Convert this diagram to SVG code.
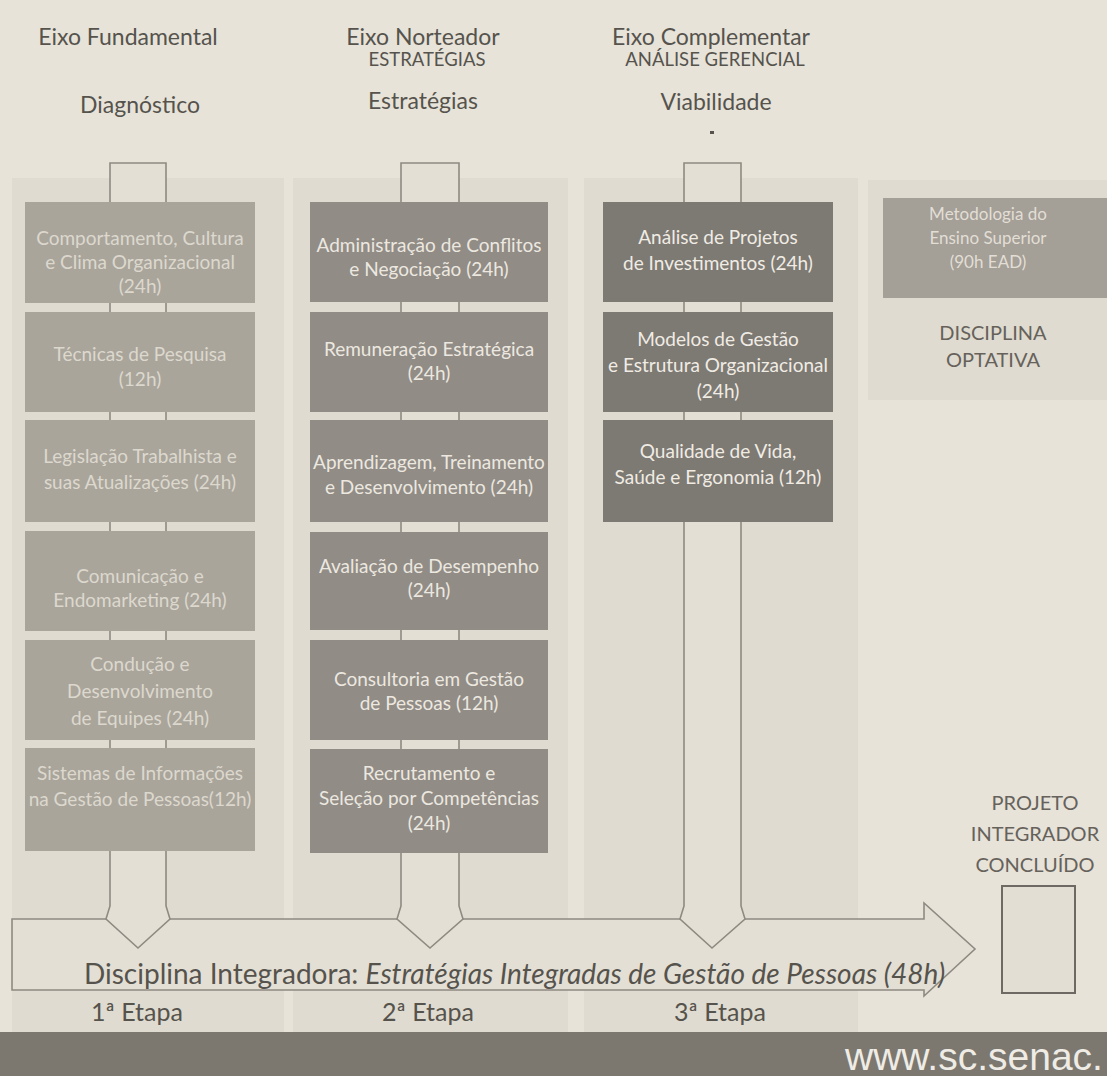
<svg xmlns="http://www.w3.org/2000/svg" width="1107" height="1076" viewBox="0 0 1107 1076">
<defs>
<style>
.hdr{font-family:Lato,"Liberation Sans",sans-serif;font-size:23px;fill:#56534d;text-anchor:middle}
.sub{font-family:Lato,"Liberation Sans",sans-serif;font-size:18.5px;fill:#56534d;text-anchor:middle}
.bt{font-family:Lato,"Liberation Sans",sans-serif;font-size:19px;text-anchor:middle}
.c1{fill:#aaa59b}
.c2{fill:#918c85}
.c3{fill:#7d7973}
.t1{fill:#dcd8ce}
.t2{fill:#ece8e0}
.t3{fill:#f0ece4}
.arr{fill:#e3dfd5;stroke:#8e8a82;stroke-width:1.6;stroke-linejoin:miter}
.panel{fill:#dfdbd0}
.lbl{font-family:Lato,"Liberation Sans",sans-serif;font-size:20px;fill:#66625b;text-anchor:middle}
.etapa{font-family:Lato,"Liberation Sans",sans-serif;font-size:25px;fill:#56534d;text-anchor:middle}
.integ{font-family:Lato,"Liberation Sans",sans-serif;font-size:28px;fill:#56534d}
</style>
</defs>
<rect x="0" y="0" width="1107" height="1076" fill="#e7e3d9"/>
<!-- column panels -->
<rect class="panel" x="12" y="178" width="272" height="854"/>
<rect class="panel" x="293" y="178" width="275" height="854"/>
<rect class="panel" x="584" y="178" width="274" height="854"/>
<rect class="panel" x="868" y="180" width="239" height="220"/>

<!-- headers -->
<g id="header-fundamental">
<text class="hdr" x="128" y="45">Eixo Fundamental</text>
<text class="hdr" x="140" y="113">Diagnóstico</text>
</g>
<g id="header-norteador">
<text class="hdr" x="423" y="45">Eixo Norteador</text>
<text class="sub" x="427" y="66">ESTRATÉGIAS</text>
<text class="hdr" x="423" y="109">Estratégias</text>
</g>
<g id="header-complementar">
<text class="hdr" x="711" y="45">Eixo Complementar</text>
<text class="sub" x="715" y="66">ANÁLISE GERENCIAL</text>
<text class="hdr" x="716" y="110">Viabilidade</text>
<rect x="710" y="131" width="4" height="3" fill="#56534d"/>
</g>

<!-- connectors -->
<g id="connectors">
<path id="integradora-arrow" class="arr" d="M12 919 L924 919 L924 903 L975 949 L924 996 L924 990 L12 990 Z"/>
<path id="col1-arrow" class="arr" d="M110 163 L166 163 L166 906 L170 919 L138 948 L106 919 L110 906 Z"/>
<path id="col2-arrow" class="arr" d="M401 163 L459 163 L459 906 L463 919 L430 948 L397 919 L401 906 Z"/>
<path id="col3-arrow" class="arr" d="M684 163 L741 163 L741 906 L745 919 L712 948 L680 919 L684 906 Z"/>
</g>

<text class="integ" x="84" y="984">Disciplina Integradora: <tspan font-style="italic">Estratégias Integradas de Gestão de Pessoas (48h)</tspan></text>

<!-- column 1 -->
<g id="c1-comportamento"><rect class="c1" x="25" y="202" width="230" height="101"/>
<text class="bt t1"><tspan x="140" y="245">Comportamento, Cultura</tspan><tspan x="140" y="269">e Clima Organizacional</tspan><tspan x="140" y="293">(24h)</tspan></text></g>
<g id="c1-tecnicas"><rect class="c1" x="25" y="312" width="230" height="100"/>
<text class="bt t1"><tspan x="140" y="361">Técnicas de Pesquisa</tspan><tspan x="140" y="386">(12h)</tspan></text></g>
<g id="c1-legislacao"><rect class="c1" x="25" y="420" width="230" height="102"/>
<text class="bt t1"><tspan x="140" y="463">Legislação Trabalhista e</tspan><tspan x="140" y="489">suas Atualizações (24h)</tspan></text></g>
<g id="c1-comunicacao"><rect class="c1" x="25" y="531" width="230" height="100"/>
<text class="bt t1"><tspan x="140" y="583">Comunicação e</tspan><tspan x="140" y="607">Endomarketing  (24h)</tspan></text></g>
<g id="c1-conducao"><rect class="c1" x="25" y="640" width="230" height="100"/>
<text class="bt t1"><tspan x="140" y="671">Condução e</tspan><tspan x="140" y="698">Desenvolvimento</tspan><tspan x="140" y="725">de Equipes (24h)</tspan></text></g>
<g id="c1-sistemas"><rect class="c1" x="25" y="748" width="230" height="103"/>
<text class="bt t1"><tspan x="140" y="780">Sistemas de Informações</tspan><tspan x="140" y="806">na Gestão de Pessoas(12h)</tspan></text></g>

<!-- column 2 -->
<g id="c2-conflitos"><rect class="c2" x="310" y="202" width="238" height="100"/>
<text class="bt t2"><tspan x="429" y="252">Administração de Conflitos</tspan><tspan x="429" y="276">e Negociação (24h)</tspan></text></g>
<g id="c2-remuneracao"><rect class="c2" x="310" y="312" width="238" height="100"/>
<text class="bt t2"><tspan x="429" y="356">Remuneração Estratégica</tspan><tspan x="429" y="380">(24h)</tspan></text></g>
<g id="c2-aprendizagem"><rect class="c2" x="310" y="420" width="238" height="102"/>
<text class="bt t2"><tspan x="429" y="469">Aprendizagem, Treinamento</tspan><tspan x="429" y="494">e Desenvolvimento (24h)</tspan></text></g>
<g id="c2-avaliacao"><rect class="c2" x="310" y="532" width="238" height="98"/>
<text class="bt t2"><tspan x="429" y="573">Avaliação de Desempenho</tspan><tspan x="429" y="597">(24h)</tspan></text></g>
<g id="c2-consultoria"><rect class="c2" x="310" y="640" width="238" height="100"/>
<text class="bt t2"><tspan x="429" y="686">Consultoria em Gestão</tspan><tspan x="429" y="710">de Pessoas (12h)</tspan></text></g>
<g id="c2-recrutamento"><rect class="c2" x="310" y="749" width="238" height="104"/>
<text class="bt t2"><tspan x="429" y="780">Recrutamento e</tspan><tspan x="429" y="805">Seleção por Competências</tspan><tspan x="429" y="830">(24h)</tspan></text></g>

<!-- column 3 -->
<g id="c3-projetos"><rect class="c3" x="603" y="202" width="230" height="100"/>
<text class="bt t3"><tspan x="718" y="244">Análise de Projetos</tspan><tspan x="718" y="270">de Investimentos (24h)</tspan></text></g>
<g id="c3-modelos"><rect class="c3" x="603" y="312" width="230" height="100"/>
<text class="bt t3"><tspan x="718" y="346">Modelos de Gestão</tspan><tspan x="718" y="372">e Estrutura Organizacional</tspan><tspan x="718" y="398">(24h)</tspan></text></g>
<g id="c3-qualidade"><rect class="c3" x="603" y="420" width="230" height="102"/>
<text class="bt t3"><tspan x="718" y="458">Qualidade de Vida,</tspan><tspan x="718" y="484">Saúde e Ergonomia (12h)</tspan></text></g>

<!-- optativa -->
<g id="optativa"><rect x="883" y="198" width="224" height="100" fill="#a49f97"/>
<text class="bt" style="font-size:17px" fill="#e2ded5"><tspan x="988" y="220">Metodologia do</tspan><tspan x="988" y="244">Ensino Superior</tspan><tspan x="988" y="268">(90h EAD)</tspan></text>
<text class="lbl"><tspan x="993" y="340">DISCIPLINA</tspan><tspan x="993" y="367">OPTATIVA</tspan></text></g>

<!-- projeto integrador -->
<g id="projeto"><text class="lbl"><tspan x="1035" y="810">PROJETO</tspan><tspan x="1035" y="841">INTEGRADOR</tspan><tspan x="1035" y="872">CONCLUÍDO</tspan></text>
<rect x="1002" y="886" width="73" height="107" fill="#e2ded4" stroke="#6e6a63" stroke-width="2"/></g>

<!-- etapas -->
<text class="etapa" x="137" y="1021">1ª Etapa</text>
<text class="etapa" x="428" y="1021">2ª Etapa</text>
<text class="etapa" x="720" y="1021">3ª Etapa</text>

<!-- footer band -->
<rect x="0" y="1032" width="1107" height="44" fill="#7c7870"/>
<text x="845" y="1070" font-family="'Liberation Sans',Arial,sans-serif" font-size="39" fill="#efece5">www.sc.senac.</text>
</svg>
